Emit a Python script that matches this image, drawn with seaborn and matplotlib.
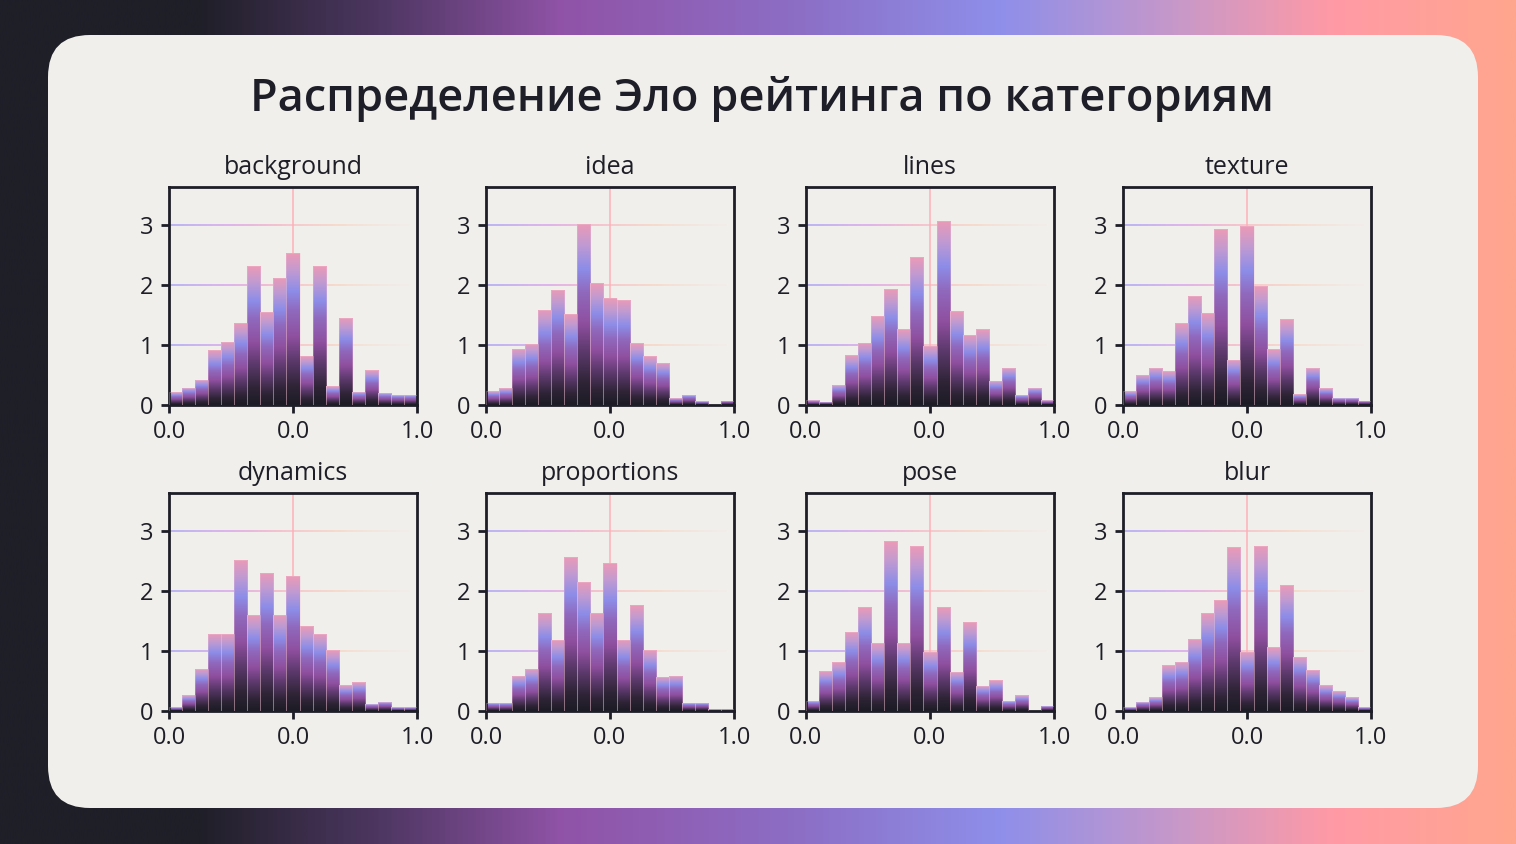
import numpy as np
import pandas as pd
import seaborn as sns
import matplotlib.pyplot as plt
from matplotlib.colors import LinearSegmentedColormap, to_rgba
from matplotlib.patches import FancyBboxPatch
from matplotlib.collections import LineCollection

# density heights of the 19 bins for each category
categories = ["background", "idea", "lines", "texture",
              "dynamics", "proportions", "pose", "blur"]
background = [0.21, 0.29, 0.42, 0.91, 1.05, 1.36, 2.31, 1.55, 2.12, 2.53,
              0.81, 2.31, 0.31, 1.45, 0.22, 0.58, 0.20, 0.17, 0.17]
idea = [0.23, 0.28, 0.94, 1.02, 1.59, 1.92, 1.51, 3.02, 2.03, 1.78,
        1.75, 1.03, 0.81, 0.70, 0.11, 0.17, 0.06, 0.00, 0.07]
lines = [0.08, 0.05, 0.34, 0.83, 1.04, 1.48, 1.93, 1.26, 2.46, 0.99,
         3.07, 1.56, 1.17, 1.26, 0.40, 0.62, 0.17, 0.29, 0.08]
texture = [0.23, 0.50, 0.62, 0.56, 1.36, 1.82, 1.53, 2.93, 0.75, 2.98,
           1.98, 0.93, 1.43, 0.18, 0.62, 0.28, 0.12, 0.12, 0.07]
dynamics = [0.06, 0.26, 0.70, 1.29, 1.29, 2.52, 1.60, 2.30, 1.60, 2.24,
            1.41, 1.29, 1.01, 0.43, 0.48, 0.12, 0.15, 0.06, 0.06]
proportions = [0.14, 0.14, 0.59, 0.70, 1.64, 1.19, 2.57, 2.15, 1.64, 2.46,
               1.19, 1.76, 1.01, 0.57, 0.59, 0.14, 0.14, 0.03, 0.03]
pose = [0.17, 0.66, 0.81, 1.32, 1.73, 1.14, 2.83, 1.14, 2.74, 0.99,
        1.73, 0.65, 1.48, 0.42, 0.51, 0.17, 0.26, 0.00, 0.09]
blur = [0.06, 0.15, 0.23, 0.76, 0.82, 1.20, 1.63, 1.84, 2.73, 0.99,
        2.75, 1.06, 2.09, 0.90, 0.69, 0.43, 0.33, 0.23, 0.06]
series = [background, idea, lines, texture, dynamics, proportions, pose, blur]

n_bins = 19
xtick_pos = [0.0, 0.5, 1.0]
xtick_labels = ["0.0", "0.0", "1.0"]
ytick_pos = [0, 1, 2, 3]
title = "Распределение Эло рейтинга по категориям"

sns.set_theme(style="ticks")
plt.rcParams['font.family'] = ['Open Sans', 'DejaVu Sans']
ink = '#1e1e28'

W, H = 1516, 844
fig = plt.figure(figsize=(W / 100, H / 100), dpi=100)

# page background: horizontal gradient and a rounded card
bg = fig.add_axes([0, 0, 1, 1], zorder=-10)
bg_cmap = LinearSegmentedColormap.from_list("bg", [
    (0.0, '#1f1f28'), (0.13, '#1f1f28'), (0.25, '#4e3762'), (0.37, '#9053a7'),
    (0.53, '#8c6fc6'), (0.66, '#8e8fea'), (0.78, '#c898c8'), (0.88, '#ff9aa6'),
    (1.0, '#ffa68e')])
bg.imshow(np.linspace(0, 1, 600)[None, :], cmap=bg_cmap, aspect='auto',
          extent=[0, W, H, 0])
R = 42
bg.add_patch(FancyBboxPatch((48 + R, 35 + R), 1430 - 2 * R, 773 - 2 * R,
                            boxstyle=f"round,pad={R}", fc='#f0efeb', ec='none'))
bg.set_xlim(0, W)
bg.set_ylim(H, 0)
bg.axis('off')

fig.text(762 / W, 1 - 99 / H, title, ha='center', va='center',
         fontsize=32.5, fontweight='semibold', color=ink)

bar_cmap = LinearSegmentedColormap.from_list("bar", [
    (0.0, '#1c1b24'), (0.12, '#2e2436'), (0.3, '#5e3a6e'), (0.45, '#8f4f9f'),
    (0.62, '#9069bd'), (0.75, '#8c8de8'), (0.88, '#bf9ad2'), (1.0, '#eb9bb6')])
grid_cmap = LinearSegmentedColormap.from_list("grid", [
    (0.0, '#a39cf6'), (0.25, '#d79ceb'), (0.45, '#f7a2bc'), (0.7, '#ffbda2'),
    (1.0, '#f6e4dc')])
grad = np.linspace(0, 1, 256)[:, None]

col_left = [169, 486, 806, 1123]
row_top = [187, 493]
aw, ah = 248, 218

for i, (cat, vals) in enumerate(zip(categories, series)):
    r, c = divmod(i, 4)
    ax = fig.add_axes([col_left[c] / W, 1 - (row_top[r] + ah) / H, aw / W, ah / H])
    ax.set_facecolor('none')

    centers = (np.arange(n_bins) + 0.5) / n_bins
    df = pd.DataFrame({"x": centers, "w": vals})
    sns.histplot(data=df, x="x", weights="w", bins=n_bins, binrange=(0, 1),
                 stat="count", ax=ax, element="bars", zorder=3)

    for p in ax.patches:
        x0, w, h = p.get_x(), p.get_width(), p.get_height()
        p.set_facecolor('none')
        p.set_edgecolor(to_rgba('#f3c4d6', 0.35))
        p.set_linewidth(0.6)
        if h <= 0:
            p.set_visible(False)
            continue
        im = ax.imshow(grad, cmap=bar_cmap, origin='lower', aspect='auto',
                       extent=[x0, x0 + w, 0, h], zorder=2)
        im.set_clip_path(p)

    # gradient grid lines
    xs = np.linspace(0, 0.97, 120)
    for y in [1, 2, 3]:
        segs = [[(xs[k], y), (xs[k + 1], y)] for k in range(len(xs) - 1)]
        cols = grid_cmap(xs[:-1] / 0.97)
        cols[:, 3] = np.clip(1.2 - xs[:-1], 0.15, 0.9)
        ax.add_collection(LineCollection(segs, colors=cols, linewidths=1.1, zorder=1))
    ax.axvline(0.5, color='#ffb0b6', lw=1.1, zorder=1)

    ax.set_xlim(0, 1)
    ax.set_ylim(0, 3.63)
    ax.set_xticks(xtick_pos)
    ax.set_xticklabels(xtick_labels)
    ax.set_yticks(ytick_pos)
    ax.set_xlabel("")
    ax.set_ylabel("")
    ax.set_title(cat, fontsize=18, color=ink, pad=9)
    ax.tick_params(length=6, width=2, labelsize=17, color=ink, labelcolor=ink, pad=5)
    for s in ax.spines.values():
        s.set_visible(True)
        s.set_linewidth(2)
        s.set_color(ink)

fig.savefig("out.png", dpi=100)
